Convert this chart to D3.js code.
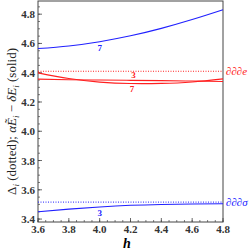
<html>
<head>
<script src="https://cdn.jsdelivr.net/npm/d3@7"></script>
<style>
  body { margin: 0; background: #fff; }
  svg text { font-family: "Liberation Serif", "Times New Roman", "DejaVu Serif", serif; }
</style>
</head>
<body>
<svg id="svg" width="249" height="252"></svg>
<script>
// h values (x axis)
var hVals = [3.6, 3.8, 4.0, 4.2, 4.4, 4.6, 4.8];

// solid curves
var blue7 = [4.565, 4.583, 4.612, 4.652, 4.703, 4.763, 4.83];
var blue3 = [3.45, 3.468, 3.483, 3.494, 3.5, 3.503, 3.505];
var red7  = [4.399, 4.36, 4.336, 4.326, 4.327, 4.337, 4.358];
var red3  = [4.356, 4.352, 4.35, 4.348, 4.346, 4.343, 4.34];

// dotted levels
var redDotted = 4.41;
var blueDotted = 3.516;

var xTicks = [3.6, 3.8, 4.0, 4.2, 4.4, 4.6, 4.8];
var yTicks = [3.4, 3.6, 3.8, 4.0, 4.2, 4.4, 4.6, 4.8];

var padL = 38, padR = 223, padT = 1, padB = 222;
var serif = "Liberation Serif, Times New Roman, DejaVu Serif, serif";

var svg = d3.select("svg");

var x = d3.scaleLinear().domain([3.6, 4.8]).range([padL, padR]);
var y = d3.scaleLinear().domain([3.38, 4.89]).range([padB, padT]);

// frame
svg.append("rect")
  .attr("x", padL).attr("y", padT)
  .attr("width", padR - padL).attr("height", padB - padT)
  .attr("fill", "none").attr("stroke", "#444").attr("stroke-width", 1);

// ticks (inward)
var minorX = d3.range(3.6, 4.8001, 0.05);
var minorY = d3.range(3.4, 4.8501, 0.05);

svg.selectAll(".mx").data(minorX).enter().append("line")
  .attr("x1", d => x(d)).attr("x2", d => x(d))
  .attr("y1", padB).attr("y2", padB - 2)
  .attr("stroke", "#444").attr("stroke-width", 0.7);
svg.selectAll(".Mx").data(xTicks).enter().append("line")
  .attr("x1", d => x(d)).attr("x2", d => x(d))
  .attr("y1", padB).attr("y2", padB - 4)
  .attr("stroke", "#444").attr("stroke-width", 0.8);
svg.selectAll(".my").data(minorY).enter().append("line")
  .attr("x1", padL).attr("x2", padL + 2)
  .attr("y1", d => y(d)).attr("y2", d => y(d))
  .attr("stroke", "#444").attr("stroke-width", 0.7);
svg.selectAll(".My").data(yTicks).enter().append("line")
  .attr("x1", padL).attr("x2", padL + 4)
  .attr("y1", d => y(d)).attr("y2", d => y(d))
  .attr("stroke", "#444").attr("stroke-width", 0.8);

// tick labels
svg.selectAll(".xl").data(xTicks).enter().append("text")
  .attr("x", d => x(d)).attr("y", padB + 11)
  .attr("text-anchor", "middle").attr("font-size", 11).attr("font-weight", "bold")
  .attr("font-family", serif).attr("fill", "#333")
  .text(d => d.toFixed(1));
svg.selectAll(".yl").data(yTicks).enter().append("text")
  .attr("x", padL - 3).attr("y", d => y(d) + 4)
  .attr("text-anchor", "end").attr("font-size", 11).attr("font-weight", "bold")
  .attr("font-family", serif).attr("fill", "#333")
  .text(d => d.toFixed(1));

// axis titles
svg.append("text")
  .attr("x", 127).attr("y", 248)
  .attr("text-anchor", "middle").attr("font-size", 14)
  .attr("font-family", serif)
  .attr("font-style", "italic").attr("font-weight", "bold")
  .text("h");

var yl = svg.append("text")
  .attr("transform", "translate(16," + ((padT + padB) / 2 + 10) + ") rotate(-90)")
  .attr("text-anchor", "middle").attr("font-size", 13)
  .attr("font-family", serif).attr("fill", "#222");
yl.append("tspan").text("Δ");
yl.append("tspan").attr("font-style", "italic").attr("font-size", 9).attr("dy", 3).text("i");
yl.append("tspan").attr("dy", -3).text(" (dotted);  ");
yl.append("tspan").attr("font-style", "italic").text("αẼ");
yl.append("tspan").attr("font-style", "italic").attr("font-size", 9).attr("dy", 3).text("i");
yl.append("tspan").attr("dy", -3).text(" − ");
yl.append("tspan").attr("font-style", "italic").text("δE");
yl.append("tspan").attr("font-style", "italic").attr("font-size", 9).attr("dy", 3).text("i");
yl.append("tspan").attr("dy", -3).text(" (solid)");

// dotted lines
svg.append("line")
  .attr("x1", padL).attr("x2", padR)
  .attr("y1", y(redDotted)).attr("y2", y(redDotted))
  .attr("stroke", "#ff2020").attr("stroke-width", 1).attr("stroke-dasharray", "1,1.5");
svg.append("line")
  .attr("x1", padL).attr("x2", padR)
  .attr("y1", y(blueDotted)).attr("y2", y(blueDotted))
  .attr("stroke", "#2020ff").attr("stroke-width", 1).attr("stroke-dasharray", "1,1.5");

// solid curves
var line = d3.line()
  .x((d, i) => x(hVals[i]))
  .y(d => y(d))
  .curve(d3.curveNatural);

var curves = [
  { v: blue7, c: "#2020ff" },
  { v: blue3, c: "#2020ff" },
  { v: red7, c: "#ff2020" },
  { v: red3, c: "#ff2020" }
];
svg.selectAll(".curve").data(curves).enter().append("path")
  .attr("d", d => line(d.v))
  .attr("fill", "none").attr("stroke", d => d.c).attr("stroke-width", 1.1);

// curve labels
function lab(t, hx, yy, c) {
  svg.append("text")
    .attr("x", x(hx)).attr("y", yy)
    .attr("text-anchor", "middle").attr("font-size", 9).attr("font-weight", "bold")
    .attr("font-family", serif).attr("fill", c).text(t);
}
lab("7", 4.0, 51, "#2020ff");
lab("3", 4.0, 216, "#2020ff");
lab("3", 4.22, 78, "#ff2020");
lab("7", 4.21, 92, "#ff2020");

// right-side labels
svg.append("text")
  .attr("x", padR + 3).attr("y", y(redDotted) + 4)
  .attr("font-size", 11).attr("font-style", "italic").attr("font-family", serif)
  .attr("fill", "#ff2020").text("∂∂∂e");
svg.append("text")
  .attr("x", padR + 3).attr("y", y(blueDotted) + 4)
  .attr("font-size", 11).attr("font-style", "italic").attr("font-family", serif)
  .attr("fill", "#2020ff").text("∂∂∂σ");
</script>
</body>
</html>
